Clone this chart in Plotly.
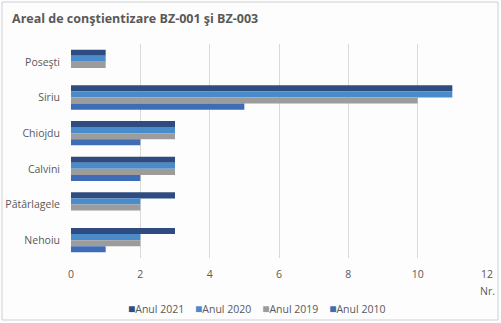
import plotly.graph_objects as go

# Localities (top to bottom) and number of actions per year
localitati = ["Poseşti", "Siriu", "Chiojdu", "Calvini", "Pătârlagele", "Nehoiu"]
anul_2021 = [1, 11, 3, 3, 3, 3]
anul_2020 = [1, 11, 3, 3, 2, 2]
anul_2019 = [1, 10, 3, 3, 2, 2]
anul_2010 = [0, 5, 2, 2, 0, 1]

serii = [
    ("Anul 2021", anul_2021, "#2F4C80"),
    ("Anul 2020", anul_2020, "#4A8CCB"),
    ("Anul 2019", anul_2019, "#9C9C9C"),
    ("Anul 2010", anul_2010, "#3F6CB6"),
]

text_color = "#595959"
font_family = "Open Sans, Noto Sans, sans-serif"

fig = go.Figure()
for nume, valori, culoare in serii:
    fig.add_trace(go.Bar(
        y=localitati, x=valori, name=nume, orientation="h",
        marker=dict(color=culoare, line=dict(width=0)), showlegend=False,
    ))

# Compact legend line: small coloured squares followed by the series names
legend_text = "&nbsp;&nbsp;&nbsp;&nbsp;".join(
    f"<span style='color:{c};font-size:12px'>■</span>{n}" for n, _, c in serii
)

L, R, T, B = 71, 14, 44, 65
W, H = 501 - L - R, 323 - T - B

fig.update_layout(
    width=501, height=323,
    paper_bgcolor="#FDFDFD", plot_bgcolor="#FDFDFD",
    margin=dict(l=L, r=R, t=T, b=B, autoexpand=False),
    barmode="group", bargap=0.32, bargroupgap=0,
    showlegend=False,
    font=dict(family=font_family, size=10.5, color=text_color),
    title=dict(
        text="<b>Areal de conştientizare BZ-001 şi BZ-003</b>",
        x=0.024, xanchor="left", y=0.943, yanchor="middle",
        font=dict(family="Liberation Sans Narrow, Open Sans, sans-serif", size=12.5, color=text_color),
    ),
    xaxis=dict(
        range=[0, 12], dtick=2, showgrid=True, gridcolor="#D9D9D9", gridwidth=1,
        zeroline=False, showline=False, ticks="", ticklabelstandoff=8,
        tickfont=dict(size=10.5, color=text_color), automargin=False,
    ),
    yaxis=dict(
        autorange="reversed", showgrid=False, zeroline=False, showline=False,
        ticks="", ticklabelstandoff=10, tickfont=dict(size=10.5, color=text_color),
        automargin=False,
    ),
    annotations=[
        dict(
            text="Nr.", xref="x", yref="paper", x=12, y=-(291 - (T + H)) / H,
            xanchor="center", yanchor="middle", showarrow=False,
            font=dict(size=10.5, color=text_color),
        ),
        dict(
            text=legend_text, xref="paper", yref="paper", x=(256 - L) / W,
            y=-(308 - (T + H)) / H, xanchor="center", yanchor="middle",
            showarrow=False, font=dict(size=10.5, color=text_color),
        ),
    ],
    shapes=[dict(
        type="rect", xref="paper", yref="paper",
        x0=-(L - 2) / W, x1=1 + (R - 3) / W, y0=-(B - 3) / H, y1=1 + (T - 2) / H,
        line=dict(color="#D0D0D0", width=1), fillcolor="rgba(0,0,0,0)", layer="below",
    )],
)

fig.write_html("out.html")
